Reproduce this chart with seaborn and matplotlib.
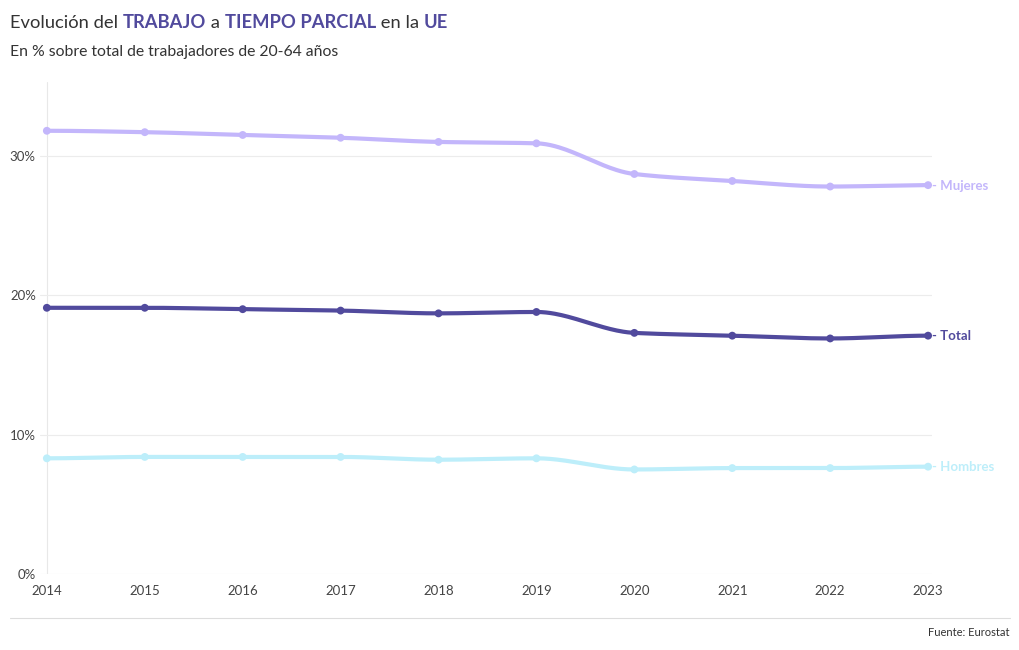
import numpy as np
import pandas as pd
import matplotlib
matplotlib.use("Agg")
import matplotlib.pyplot as plt
import seaborn as sns

years = [2014, 2015, 2016, 2017, 2018, 2019, 2020, 2021, 2022, 2023]
mujeres = [31.8, 31.7, 31.5, 31.3, 31.0, 30.9, 28.7, 28.2, 27.8, 27.9]
total = [19.1, 19.1, 19.0, 18.9, 18.7, 18.8, 17.3, 17.1, 16.9, 17.1]
hombres = [8.3, 8.4, 8.4, 8.4, 8.2, 8.3, 7.5, 7.6, 7.6, 7.7]
series_names = ["Mujeres", "Total", "Hombres"]
yticks = [0, 10, 20, 30]

colors = {"Mujeres": "#c3b6fb", "Total": "#514a9d", "Hombres": "#bdeefa"}

df = pd.DataFrame({"year": years * 3,
                   "value": mujeres + total + hombres,
                   "serie": sum([[n] * len(years) for n in series_names], [])})

sns.set_theme(style="white")
plt.rcParams['font.family'] = ['Lato', 'DejaVu Sans']

fig = plt.figure(figsize=(10.2, 6.5), dpi=100)
ax = fig.add_axes([40 / 1020, 76 / 650, 892 / 1020, 492 / 650])


def pchip(x, y, xs):
    x = np.asarray(x, float); y = np.asarray(y, float)
    h = np.diff(x); d = np.diff(y) / h
    m = np.zeros_like(y)
    for k in range(1, len(y) - 1):
        if d[k - 1] * d[k] > 0:
            w1 = 2 * h[k] + h[k - 1]; w2 = h[k] + 2 * h[k - 1]
            m[k] = (w1 + w2) / (w1 / d[k - 1] + w2 / d[k])
    m[0] = d[0] if abs(d[0]) < 1e-9 else 0.0
    m[-1] = 0.0
    out = np.empty_like(xs)
    for i, xv in enumerate(xs):
        k = min(np.searchsorted(x, xv, side="right") - 1, len(x) - 2)
        k = max(k, 0)
        t = (xv - x[k]) / h[k]
        h00 = 2 * t**3 - 3 * t**2 + 1; h10 = t**3 - 2 * t**2 + t
        h01 = -2 * t**3 + 3 * t**2; h11 = t**3 - t**2
        out[i] = h00 * y[k] + h10 * h[k] * m[k] + h01 * y[k + 1] + h11 * h[k] * m[k + 1]
    return out


xs = np.linspace(years[0], years[-1], 400)
smooth = []
for n in series_names:
    sub = df[df.serie == n]
    smooth.append(pd.DataFrame({"year": xs, "value": pchip(sub.year, sub.value, xs), "serie": n}))
smooth = pd.concat(smooth)

sns.lineplot(data=smooth, x="year", y="value", hue="serie", palette=colors,
             linewidth=3, legend=False, ax=ax, zorder=3)
sns.scatterplot(data=df, x="year", y="value", hue="serie", palette=colors,
                s=32, edgecolor="none", legend=False, ax=ax, zorder=4)

ax.set_xlim(2013.93, 2023.04)
ax.set_ylim(0, 35.3)
ax.set_xticks(years)
ax.set_xticklabels([str(y) for y in years], color="#444444", fontsize=9.5)
ax.set_yticks(yticks)
ax.set_yticklabels([f"{t}%" for t in yticks], color="#444444", fontsize=9.5)
ax.tick_params(axis="x", length=0, pad=8)
ax.tick_params(axis="y", length=0, pad=3)
ax.set_xlabel(""); ax.set_ylabel("")
for s in ax.spines.values():
    s.set_visible(False)
ax.axvline(2014, color="#e8e8e8", lw=0.8, zorder=0)
for t in yticks:
    ax.axhline(t, color="#ececec", lw=0.8, zorder=0)

last = {"Mujeres": mujeres[-1], "Total": total[-1], "Hombres": hombres[-1]}
for n in series_names:
    ax.annotate("- " + n, xy=(years[-1], last[n]), xytext=(3, -0.5), textcoords="offset points",
                va="center", ha="left", fontsize=9.5, fontweight="bold", color=colors[n],
                annotation_clip=False)

# Title with highlighted words
pieces = [("Evolución del ", "#333333", "normal"), ("TRABAJO", "#514a9d", "bold"),
          (" a ", "#333333", "normal"), ("TIEMPO PARCIAL", "#514a9d", "bold"),
          (" en la ", "#333333", "normal"), ("UE", "#514a9d", "bold")]
txt = fig.text(10 / 1020, 1 - 28 / 650, pieces[0][0], color=pieces[0][1], fontweight=pieces[0][2],
               fontsize=13.2, va="baseline", ha="left")
for p, c, w in pieces[1:]:
    txt = ax.annotate(p, xy=(1, 0), xycoords=txt, va="bottom", ha="left", color=c,
                      fontweight=w, fontsize=13.2, annotation_clip=False)
fig.text(10 / 1020, 1 - 52 / 650, "En % sobre total de trabajadores de 20-64 años",
         color="#333333", fontsize=11.3, va="center", ha="left")

fig.add_artist(plt.Line2D([10 / 1020, 1010 / 1020], [1 - 618 / 650, 1 - 618 / 650],
                          color="#dddddd", lw=0.8))
fig.text(1010 / 1020, 1 - 633 / 650, "Fuente: Eurostat", color="#333333", fontsize=8,
         ha="right", va="center")

fig.savefig("out.png", dpi=100)
